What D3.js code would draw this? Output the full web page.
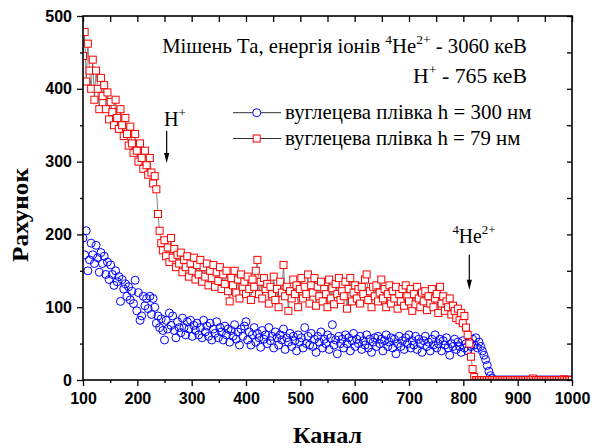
<!DOCTYPE html>
<html><head><meta charset="utf-8">
<script src="https://cdn.jsdelivr.net/npm/d3@7/dist/d3.min.js"></script>
<style>body{margin:0;background:#fff} svg{display:block}</style>
</head><body><svg id="c" width="592" height="448"></svg>
<script>
// ---- data ----
const channelStart = 100, channelStep = 3;
// вуглецева плівка h = 300 нм (blue circles); each row = 10 points (30 channels), channels 100,103,...,1000
const film300 = [
 195,172,205,150,165,188,172,160,185,168,
 148,175,160,170,145,162,138,158,145,130,
 150,135,142,108,138,125,132,115,128,110,
 122,105,137,95,120,82,88,115,102,112,
 98,115,90,112,100,78,88,72,84,68,
 55,82,70,92,75,88,68,58,80,72,
 65,85,72,62,80,70,82,60,75,68,
 78,62,72,58,82,66,74,60,78,55,
 70,64,80,58,72,66,55,74,62,70,
 52,68,60,76,56,66,48,70,60,74,
 80,55,66,48,62,72,52,64,58,45,
 68,56,62,50,72,54,60,44,66,58,
 48,62,55,70,42,58,52,64,46,60,
 54,40,62,52,58,44,72,50,60,48,
 64,46,56,38,60,52,66,44,56,50,
 62,42,58,76,48,55,36,60,50,56,
 44,62,50,58,40,54,64,46,56,50,
 60,42,54,48,62,44,56,38,52,58,
 46,60,50,56,40,54,62,46,52,58,
 44,56,36,50,60,46,54,42,58,50,
 62,44,54,48,60,42,56,50,38,54,
 60,46,52,40,56,48,62,44,50,56,
 40,54,48,58,44,34,50,46,56,42,
 52,46,38,54,44,50,40,52,46,56,
 48,58,44,52,46,40,34,28,20,12,
 6,2,0,0,0,0,0,0,0,0,
 0,0,0,0,0,0,0,0,0,0,
 0,0,0,0,0,0,0,0,0,0,
 0,0,0,0,0,0,0,0,0,0,
 0,0,0,0,0,0,0,0,0,0,
 0
];
// вуглецева плівка h = 79 нм (red squares); same channels
const film79 = [
 445,478,410,462,425,400,440,385,425,400,
 372,415,390,405,372,395,358,382,368,350,
 385,360,345,372,350,335,360,338,322,348,
 325,312,338,315,300,325,305,290,315,295,
 282,305,285,270,280,262,228,205,188,178,
 192,170,182,162,195,168,180,155,172,160,
 175,148,165,155,170,142,160,150,168,138,
 158,145,165,135,155,142,160,130,150,140,
 158,128,148,136,155,125,145,132,150,122,
 108,140,130,150,120,138,112,145,128,135,
 118,142,125,110,138,128,150,165,118,135,
 112,140,125,132,105,128,118,142,110,125,
 100,135,120,158,115,128,95,122,112,138,
 118,130,100,125,140,112,128,118,145,105,
 130,120,140,102,128,115,135,108,125,118,
 100,138,112,126,104,132,118,140,110,122,
 115,135,98,125,140,108,120,130,112,125,
 105,128,118,138,145,110,122,100,128,115,
 130,108,120,138,112,125,100,118,130,105,
 122,112,128,98,118,108,125,102,130,115,
 108,125,95,118,104,128,112,100,120,108,
 122,96,115,105,125,100,112,118,92,128,
 105,115,95,108,100,112,90,102,95,85,
 98,82,92,78,88,72,62,50,32,15,
 4,0,0,0,0,0,0,0,0,0,
 0,0,0,0,0,0,0,0,0,0,
 0,0,0,0,0,0,0,0,0,0,
 0,0,0,0,0,0,2,0,0,0,
 0,0,0,0,0,0,0,0,0,0,
 0,0,0,0,0,1,0,0,0,0,
 0
];
const xTicks = [100,200,300,400,500,600,700,800,900,1000];
const xMinor = [150,250,350,450,550,650,750,850,950];
const yTicks = [0,100,200,300,400,500];
const yMinor = [50,150,250,350,450];
const legendLabels = ["вуглецева плівка h = 300 нм", "вуглецева плівка h = 79 нм"];
const xTitle = "Канал", yTitle = "Рахунок";
// annotation anchors in data units
const arrowH = {ch: 254, from: 342, to: 298};
const arrowHe = {ch: 811, from: 172, to: 124};

// ---- layout ----
const W = 592, H = 448, m = {l: 83, r: 20, t: 16, b: 68};
const svg = d3.select("#c");
const x = d3.scaleLinear().domain([100, 1000]).range([m.l, W - m.r]);
const y = d3.scaleLinear().domain([0, 500]).range([H - m.b, m.t]);
const SANS = '"Liberation Sans"';
const SERIF = '"Liberation Serif"';

const pts = arr => arr.map((v, i) => ({ch: channelStart + i * channelStep, v}));
const blue = pts(film300), red = pts(film79);

svg.append("clipPath").attr("id", "clip").append("rect")
  .attr("x", m.l).attr("y", m.t - 10).attr("width", W - m.l - m.r).attr("height", H - m.t - m.b + 10);
const plot = svg.append("g").attr("clip-path", "url(#clip)");

plot.append("g").selectAll("circle").data(blue).join("circle")
  .attr("cx", d => x(d.ch)).attr("cy", d => y(d.v)).attr("r", 4)
  .attr("fill", "none").attr("stroke", "#0000ff").attr("stroke-width", 1);

plot.append("path").datum(red)
  .attr("d", d3.line().x(d => x(d.ch)).y(d => y(d.v)))
  .attr("fill", "none").attr("stroke", "#111").attr("stroke-width", 0.5);
const sq = 7;
plot.append("g").selectAll("rect").data(red).join("rect")
  .attr("x", d => x(d.ch) - sq / 2).attr("y", d => y(d.v) - sq / 2)
  .attr("width", sq).attr("height", sq)
  .attr("fill", "#fff").attr("stroke", "#ff0000").attr("stroke-width", 1);

// ---- axes ----
function styleAxis(g) {
  g.select(".domain").remove();
  g.selectAll("line").attr("stroke", "#000").attr("stroke-width", 1.3);
  g.selectAll("text").style("font-family", SANS).attr("font-weight", "bold").attr("font-size", 16).attr("fill", "#000");
}
svg.append("g").attr("transform", `translate(0,${H - m.b})`)
  .call(d3.axisBottom(x).tickValues(xTicks).tickSize(6).tickPadding(7).tickFormat(d3.format("d"))).call(styleAxis);
svg.append("g").attr("transform", `translate(0,${H - m.b})`)
  .call(d3.axisBottom(x).tickValues(xMinor).tickSize(3).tickFormat("")).call(styleAxis);
svg.append("g").attr("transform", `translate(${m.l},0)`)
  .call(d3.axisLeft(y).tickValues(yTicks).tickSize(6).tickPadding(5).tickFormat(d3.format("d"))).call(styleAxis);
svg.append("g").attr("transform", `translate(${m.l},0)`)
  .call(d3.axisLeft(y).tickValues(yMinor).tickSize(3).tickFormat("")).call(styleAxis);
svg.append("g").attr("transform", `translate(0,${m.t})`)
  .call(d3.axisTop(x).tickValues(xTicks.concat(xMinor)).tickSize(-6).tickFormat("")).call(styleAxis);
svg.append("g").attr("transform", `translate(${W - m.r},0)`)
  .call(d3.axisRight(y).tickValues(yTicks.concat(yMinor)).tickSize(-5).tickFormat("")).call(styleAxis);

svg.append("rect").attr("x", m.l).attr("y", m.t).attr("width", W - m.l - m.r).attr("height", H - m.t - m.b)
  .attr("fill", "none").attr("stroke", "#000").attr("stroke-width", 1.6);

// horizontal fit of a text to a target width, keeping its anchor point fixed
function fitWidth(sel, target, anchor) {
  const bb = sel.node().getBBox();
  if (!bb.width) return;
  const k = target / bb.width;
  const ax = anchor === "end" ? bb.x + bb.width : anchor === "middle" ? bb.x + bb.width / 2 : bb.x;
  sel.attr("transform", `translate(${ax},0) scale(${k},1) translate(${-ax},0)`);
}

// axis titles
const xt = svg.append("text").attr("x", 327.5).attr("y", 443).attr("font-size", 24)
  .style("font-family", SERIF).style("font-weight", "bold").attr("text-anchor", "middle").text(xTitle);
fitWidth(xt, 69, "middle");
const yg = svg.append("g").attr("transform", "translate(27.5,215) rotate(-90)");
const yt = yg.append("text").attr("x", 0).attr("y", 0).attr("font-size", 24)
  .style("font-family", SERIF).style("font-weight", "bold").attr("text-anchor", "middle").text(yTitle);
fitWidth(yt, 94, "middle");

// ---- annotations ----
function richText(xp, yp, anchor, parts, size) {
  const t = svg.append("text").attr("x", xp).attr("y", yp).attr("font-size", size)
    .style("font-family", SERIF).attr("text-anchor", anchor);
  let raised = false;
  parts.forEach(p => {
    const s = t.append("tspan").text(p.t);
    if (p.sup && !raised) { s.attr("dy", -9).attr("font-size", 13); raised = true; }
    else if (p.sup) { s.attr("font-size", 13); }
    else if (raised) { s.attr("dy", 9); raised = false; }
  });
  return t;
}
fitWidth(richText(x(917), y(449), "end", [
  {t: "Мішень Та, енергія іонів "}, {t: "4", sup: true}, {t: "He"}, {t: "2+", sup: true}, {t: " - 3060 кеВ"}], 20), 365, "end");
fitWidth(richText(x(917), y(407.5), "end", [{t: "H"}, {t: "+", sup: true}, {t: "  - 765 кеВ"}], 20), 114, "end");
fitWidth(richText(x(249), y(349), "start", [{t: "H"}, {t: "+", sup: true}], 20), 22, "start");
fitWidth(richText(x(780), y(188), "start", [{t: "4", sup: true}, {t: "He"}, {t: "2+", sup: true}], 20), 43, "start");

function arrow(a) {
  const ax = x(a.ch), y0 = y(a.from), y1 = y(a.to);
  svg.append("line").attr("x1", ax).attr("x2", ax).attr("y1", y0).attr("y2", y1 - 6)
    .attr("stroke", "#000").attr("stroke-width", 1.2);
  svg.append("path").attr("d", `M${ax},${y1}L${ax - 2.6},${y1 - 10}L${ax + 2.6},${y1 - 10}Z`).attr("fill", "#000");
}
arrow(arrowH); arrow(arrowHe);

// ---- legend ----
const legendWidths = [247, 236];
const lg = svg.append("g");
legendLabels.forEach((lab, i) => {
  const ly = 112.7 + i * 25.8;
  lg.append("line").attr("x1", 233).attr("x2", 281).attr("y1", ly).attr("y2", ly)
    .attr("stroke", "#333").attr("stroke-width", 1);
  if (i === 0) lg.append("circle").attr("cx", 256.7).attr("cy", ly).attr("r", 4)
    .attr("fill", "#fff").attr("stroke", "#0000ff").attr("stroke-width", 1);
  else lg.append("rect").attr("x", 256.7 - sq / 2).attr("y", ly - sq / 2).attr("width", sq).attr("height", sq)
    .attr("fill", "#fff").attr("stroke", "#ff0000").attr("stroke-width", 1);
  const t = lg.append("text").attr("x", 285).attr("y", ly + 6.5).attr("font-size", 20)
    .style("font-family", SERIF).text(lab);
  fitWidth(t, legendWidths[i], "start");
});
</script></body></html>
